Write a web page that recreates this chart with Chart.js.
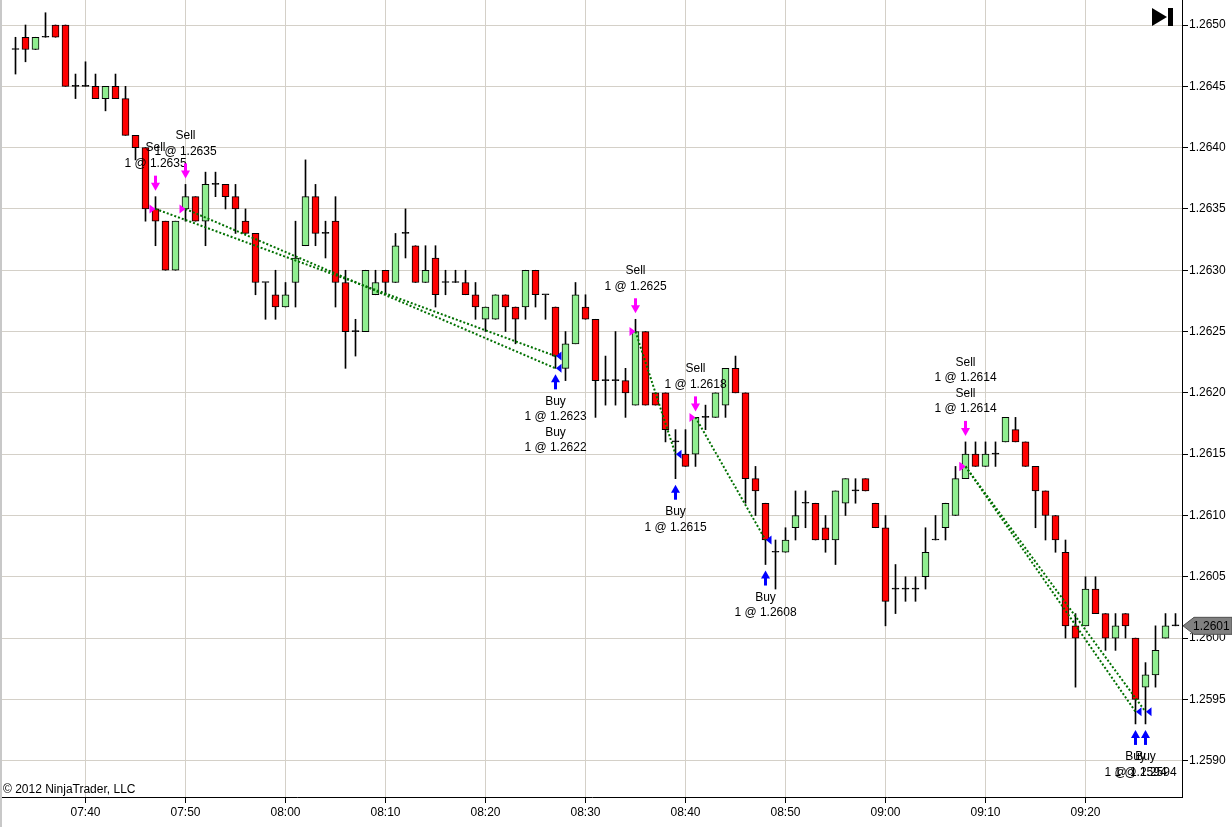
<!DOCTYPE html>
<html>
<head>
<meta charset="utf-8">
<script src="https://cdn.jsdelivr.net/npm/chart.js@4/dist/chart.umd.min.js"></script>
<style>
  html, body { margin: 0; padding: 0; background: #fff; }
  canvas { display: block; }
</style>
</head>
<body>
<canvas id="myChart" width="1232" height="827"></canvas>
<script>
// one-minute bars, 07:33 .. 09:29
var times = [
  '07:33','07:34','07:35','07:36','07:37','07:38','07:39','07:40','07:41','07:42',
  '07:43','07:44','07:45','07:46','07:47','07:48','07:49','07:50','07:51','07:52',
  '07:53','07:54','07:55','07:56','07:57','07:58','07:59','08:00','08:01','08:02',
  '08:03','08:04','08:05','08:06','08:07','08:08','08:09','08:10','08:11','08:12',
  '08:13','08:14','08:15','08:16','08:17','08:18','08:19','08:20','08:21','08:22',
  '08:23','08:24','08:25','08:26','08:27','08:28','08:29','08:30','08:31','08:32',
  '08:33','08:34','08:35','08:36','08:37','08:38','08:39','08:40','08:41','08:42',
  '08:43','08:44','08:45','08:46','08:47','08:48','08:49','08:50','08:51','08:52',
  '08:53','08:54','08:55','08:56','08:57','08:58','08:59','09:00','09:01','09:02',
  '09:03','09:04','09:05','09:06','09:07','09:08','09:09','09:10','09:11','09:12',
  '09:13','09:14','09:15','09:16','09:17','09:18','09:19','09:20','09:21','09:22',
  '09:23','09:24','09:25','09:26','09:27','09:28','09:29'
];
var open = [
  1.2648,1.2649,1.2648,1.2649,1.2650,1.2650,1.2645,1.2645,1.2645,1.2644,
  1.2645,1.2644,1.2641,1.2640,1.2635,1.2634,1.2630,1.2635,1.2636,1.2634,
  1.2637,1.2637,1.2636,1.2634,1.2633,1.2629,1.2628,1.2627,1.2629,1.2632,
  1.2636,1.2633,1.2634,1.2629,1.2625,1.2625,1.2628,1.2630,1.2629,1.2633,
  1.2632,1.2629,1.2631,1.2629,1.2629,1.2629,1.2628,1.2626,1.2626,1.2628,
  1.2627,1.2627,1.2630,1.2628,1.2627,1.2622,1.2624,1.2627,1.2626,1.2621,
  1.2621,1.2621,1.2619,1.2625,1.2620,1.2620,1.2616,1.2615,1.2615,1.2618,
  1.2618,1.2619,1.2622,1.2620,1.2613,1.2611,1.2607,1.2607,1.2609,1.2611,
  1.2611,1.2609,1.2608,1.2611,1.2612,1.2613,1.2611,1.2609,1.2604,1.2604,
  1.2604,1.2605,1.2608,1.2609,1.2610,1.2613,1.2615,1.2614,1.2615,1.2616,
  1.2617,1.2616,1.2614,1.2612,1.2610,1.2607,1.2601,1.2601,1.2604,1.2602,
  1.2600,1.2602,1.2600,1.2596,1.2597,1.2600,1.2601
];
var high = [
  1.2649,1.2650,1.2649,1.2651,1.2650,1.2650,1.2646,1.2647,1.2646,1.2645,
  1.2646,1.2645,1.2641,1.2640,1.2636,1.2634,1.2634,1.2637,1.2636,1.2638,
  1.2638,1.2637,1.2637,1.2635,1.2633,1.2629,1.2630,1.2629,1.2634,1.2639,
  1.2637,1.2634,1.2636,1.2630,1.2626,1.2630,1.2630,1.2630,1.2633,1.2635,
  1.2632,1.2632,1.2632,1.2630,1.2630,1.2630,1.2629,1.2627,1.2628,1.2628,
  1.2627,1.2630,1.2630,1.2628,1.2627,1.2625,1.2629,1.2628,1.2626,1.2623,
  1.2625,1.2622,1.2626,1.2625,1.2620,1.2620,1.2617,1.2617,1.2618,1.2619,
  1.2620,1.2622,1.2623,1.2620,1.2614,1.2611,1.2608,1.2609,1.2612,1.2612,
  1.2611,1.2610,1.2612,1.2613,1.2613,1.2613,1.2611,1.2610,1.2606,1.2605,
  1.2605,1.2609,1.2610,1.2611,1.2614,1.2616,1.2616,1.2616,1.2616,1.2618,
  1.2618,1.2616,1.2614,1.2612,1.2610,1.2608,1.2602,1.2605,1.2605,1.2602,
  1.2602,1.2602,1.2600,1.2598,1.2601,1.2602,1.2602
];
var low = [
  1.2646,1.2647,1.2648,1.2649,1.2649,1.2645,1.2644,1.2645,1.2644,1.2643,
  1.2644,1.2641,1.2639,1.2634,1.2632,1.2630,1.2630,1.2634,1.2634,1.2632,
  1.2636,1.2635,1.2633,1.2633,1.2628,1.2626,1.2626,1.2627,1.2627,1.2632,
  1.2632,1.2631,1.2627,1.2622,1.2623,1.2625,1.2628,1.2628,1.2629,1.2631,
  1.2629,1.2629,1.2627,1.2628,1.2629,1.2628,1.2626,1.2625,1.2626,1.2625,
  1.2624,1.2626,1.2627,1.2626,1.2622,1.2621,1.2624,1.2626,1.2618,1.2619,
  1.2619,1.2618,1.2619,1.2619,1.2619,1.2616,1.2613,1.2614,1.2614,1.2617,
  1.2618,1.2618,1.2620,1.2611,1.2610,1.2606,1.2604,1.2607,1.2608,1.2609,
  1.2608,1.2607,1.2606,1.2610,1.2611,1.2612,1.2609,1.2601,1.2602,1.2603,
  1.2603,1.2604,1.2608,1.2608,1.2610,1.2613,1.2614,1.2614,1.2614,1.2616,
  1.2616,1.2614,1.2609,1.2608,1.2607,1.2600,1.2596,1.2601,1.2602,1.2599,
  1.2599,1.2600,1.2593,1.2593,1.2596,1.2600,1.2601
];
var close = [
  1.2648,1.2648,1.2649,1.2649,1.2649,1.2645,1.2645,1.2645,1.2644,1.2645,
  1.2644,1.2641,1.2640,1.2635,1.2634,1.2630,1.2634,1.2636,1.2634,1.2637,
  1.2637,1.2636,1.2635,1.2633,1.2629,1.2629,1.2627,1.2628,1.2631,1.2636,
  1.2633,1.2633,1.2629,1.2625,1.2625,1.2630,1.2629,1.2629,1.2632,1.2633,
  1.2629,1.2630,1.2628,1.2629,1.2629,1.2628,1.2627,1.2627,1.2628,1.2627,
  1.2626,1.2630,1.2628,1.2628,1.2623,1.2624,1.2628,1.2626,1.2621,1.2621,
  1.2621,1.2620,1.2625,1.2619,1.2619,1.2617,1.2616,1.2614,1.2618,1.2618,
  1.2620,1.2622,1.2620,1.2613,1.2612,1.2608,1.2607,1.2608,1.2610,1.2611,
  1.2608,1.2608,1.2612,1.2613,1.2612,1.2612,1.2609,1.2603,1.2604,1.2604,
  1.2604,1.2607,1.2608,1.2611,1.2613,1.2615,1.2614,1.2615,1.2615,1.2618,
  1.2616,1.2614,1.2612,1.2610,1.2608,1.2601,1.2600,1.2604,1.2602,1.2600,
  1.2601,1.2601,1.2595,1.2597,1.2599,1.2601,1.2601
];

// executions (sell i is closed by buy i)
var sellTimes = ['07:47','07:50','08:35','08:41','09:08','09:08'];
var sellPrices = [1.2635, 1.2635, 1.2625, 1.2618, 1.2614, 1.2614];
var buyTimes = ['08:27','08:27','08:39','08:48','09:25','09:26'];
var buyPrices = [1.2623, 1.2622, 1.2615, 1.2608, 1.2594, 1.2594];

var timeTicks = ['07:40','07:50','08:00','08:10','08:20','08:30','08:40','08:50','09:00','09:10','09:20'];
var priceTicks = [1.2590,1.2595,1.2600,1.2605,1.2610,1.2615,1.2620,1.2625,1.2630,1.2635,1.2640,1.2645,1.2650];
var lastPrice = 1.2601;

var UP = '#90ee90', DOWN = '#ff0000', GRID = '#d4d0c8';
var FONT = '"Liberation Sans", Arial, sans-serif';

function toMin(t) {
    var p = t.split(':');
    return +p[0] * 60 + +p[1];
}
function barIndex(t) { return times.indexOf(t); }

Chart.defaults.font.family = FONT;
Chart.defaults.font.size = 12;
Chart.defaults.color = '#000';

var datasets = [];
// wicks
datasets.push({
    type: 'bar',
    data: times.map(function (t, i) { return {x: toMin(t), y: [low[i], high[i]]}; }),
    backgroundColor: '#000',
    borderWidth: 0,
    barThickness: 1,
    grouped: false,
    order: 3
});
// bodies
datasets.push({
    type: 'bar',
    data: times.map(function (t, i) { return {x: toMin(t), y: [open[i], close[i]]}; }),
    backgroundColor: function (c) {
        var i = c.dataIndex;
        if (open[i] === close[i]) return '#000';
        return close[i] > open[i] ? UP : DOWN;
    },
    borderColor: '#000',
    borderWidth: 1,
    borderSkipped: false,
    barThickness: 7,
    minBarLength: 1,
    grouped: false,
    order: 2
});
// trade lines
sellTimes.forEach(function (t, i) {
    datasets.push({
        type: 'line',
        data: [{x: toMin(t), y: sellPrices[i]}, {x: toMin(buyTimes[i]), y: buyPrices[i]}],
        borderColor: '#007000',
        borderWidth: 2,
        borderDash: [2, 2],
        pointRadius: 0,
        fill: false,
        order: 1
    });
});

function groupBy(list) {
    var g = {};
    list.forEach(function (t, i) { (g[t] = g[t] || []).push(i); });
    return g;
}

var markers = {
    id: 'markers',
    afterDatasetsDraw: function (chart) {
        var ctx = chart.ctx, xs = chart.scales.x, ys = chart.scales.y;
        ctx.save();
        ctx.font = '12px ' + FONT;
        ctx.textAlign = 'center';
        ctx.textBaseline = 'middle';

        // sells
        var sg = groupBy(sellTimes);
        Object.keys(sg).forEach(function (t) {
            var idx = sg[t], b = barIndex(t);
            var x = Math.round(xs.getPixelForValue(toMin(t))) - 0.5;
            var top = ys.getPixelForValue(high[b]) - 21;
            ctx.fillStyle = '#ff00ff';
            ctx.fillRect(x - 1.5, top, 3, 8);
            ctx.beginPath();
            ctx.moveTo(x - 4.5, top + 7);
            ctx.lineTo(x + 4.5, top + 7);
            ctx.lineTo(x, top + 15);
            ctx.closePath();
            ctx.fill();
            var n = idx.length * 2;
            ctx.fillStyle = '#000';
            idx.forEach(function (k, j) {
                var l0 = j * 2;
                ctx.fillText('Sell', x, top - 12 - (n - 1 - l0) * 15.5);
                ctx.fillText('1 @ ' + sellPrices[k].toFixed(4), x, top - 12 - (n - 2 - l0) * 15.5);
            });
            idx.forEach(function (k) {
                var y = ys.getPixelForValue(sellPrices[k]);
                ctx.fillStyle = '#ff00ff';
                ctx.beginPath();
                ctx.moveTo(x - 6, y - 4.5);
                ctx.lineTo(x, y);
                ctx.lineTo(x - 6, y + 4.5);
                ctx.closePath();
                ctx.fill();
            });
        });

        // buys
        var bg = groupBy(buyTimes);
        Object.keys(bg).forEach(function (t) {
            var idx = bg[t], b = barIndex(t);
            var x = Math.round(xs.getPixelForValue(toMin(t))) - 0.5;
            var bot = ys.getPixelForValue(low[b]) + 21;
            ctx.fillStyle = '#0000ff';
            ctx.fillRect(x - 1.5, bot - 8, 3, 8);
            ctx.beginPath();
            ctx.moveTo(x - 4.5, bot - 7);
            ctx.lineTo(x + 4.5, bot - 7);
            ctx.lineTo(x, bot - 15);
            ctx.closePath();
            ctx.fill();
            ctx.fillStyle = '#000';
            idx.forEach(function (k, j) {
                ctx.fillText('Buy', x, bot + 12 + (j * 2) * 15.5);
                ctx.fillText('1 @ ' + buyPrices[k].toFixed(4), x, bot + 12 + (j * 2 + 1) * 15.5);
            });
            idx.forEach(function (k) {
                var y = ys.getPixelForValue(buyPrices[k]);
                ctx.fillStyle = '#0000ff';
                ctx.beginPath();
                ctx.moveTo(x + 6, y - 4.5);
                ctx.lineTo(x + 0.5, y);
                ctx.lineTo(x + 6, y + 4.5);
                ctx.closePath();
                ctx.fill();
            });
        });
        ctx.restore();
    },
    afterDraw: function (chart) {
        var ctx = chart.ctx, ys = chart.scales.y, a = chart.chartArea;
        ctx.save();
        // left border
        ctx.fillStyle = '#c8c8c8';
        ctx.fillRect(0, 0, 2, chart.height);
        // copyright
        ctx.fillStyle = '#000';
        ctx.font = '12px ' + FONT;
        ctx.textAlign = 'left';
        ctx.textBaseline = 'alphabetic';
        ctx.fillText('\u00a9 2012 NinjaTrader, LLC', 3, a.bottom - 4);
        // "go to end" icon
        ctx.beginPath();
        ctx.moveTo(1152, 8);
        ctx.lineTo(1167, 17);
        ctx.lineTo(1152, 26);
        ctx.closePath();
        ctx.fill();
        ctx.fillRect(1168, 8, 5, 18);
        // last price tag
        var y = ys.getPixelForValue(lastPrice);
        ctx.beginPath();
        ctx.moveTo(a.right + 1, y);
        ctx.lineTo(a.right + 12, y - 8.5);
        ctx.lineTo(chart.width, y - 8.5);
        ctx.lineTo(chart.width, y + 8.5);
        ctx.lineTo(a.right + 12, y + 8.5);
        ctx.closePath();
        ctx.fillStyle = '#808080';
        ctx.fill();
        ctx.strokeStyle = '#505050';
        ctx.lineWidth = 1;
        ctx.stroke();
        ctx.fillStyle = '#000';
        ctx.textBaseline = 'middle';
        ctx.fillText(lastPrice.toFixed(4), a.right + 11, y + 0.5);
        ctx.restore();
    }
};

var chart = new Chart(document.getElementById('myChart').getContext('2d'), {
    type: 'bar',
    data: { datasets: datasets },
    options: {
        responsive: false,
        animation: false,
        events: [],
        layout: { padding: { left: 2, top: 0, right: 0, bottom: 0 } },
        plugins: { legend: { display: false }, tooltip: { enabled: false } },
        scales: {
            x: {
                type: 'linear',
                position: 'bottom',
                min: 451.65,
                max: 569.65,
                offset: false,
                afterFit: function (s) {
                    s.height = 30;
                    s.paddingLeft = 0;
                    s.paddingRight = 0;
                },
                afterBuildTicks: function (s) {
                    s.ticks = timeTicks.map(function (t) { return {value: toMin(t)}; });
                },
                ticks: {
                    autoSkip: false,
                    maxRotation: 0,
                    padding: 2,
                    callback: function (v, i) { return timeTicks[i]; }
                },
                grid: { color: GRID, tickColor: '#000', tickLength: 6, offset: false },
                border: { color: '#000' }
            },
            y: {
                type: 'linear',
                position: 'right',
                min: 1.2587041,
                max: 1.2652039,
                afterFit: function (s) {
                    s.width = 50;
                    s.paddingTop = 0;
                    s.paddingBottom = 0;
                },
                afterBuildTicks: function (s) {
                    s.ticks = priceTicks.map(function (v) { return {value: v}; });
                },
                ticks: {
                    padding: 1,
                    callback: function (v) { return v.toFixed(4); }
                },
                grid: { color: GRID, tickColor: '#000', tickLength: 6 },
                border: { color: '#000' }
            }
        }
    },
    plugins: [markers]
});
</script>
</body>
</html>
